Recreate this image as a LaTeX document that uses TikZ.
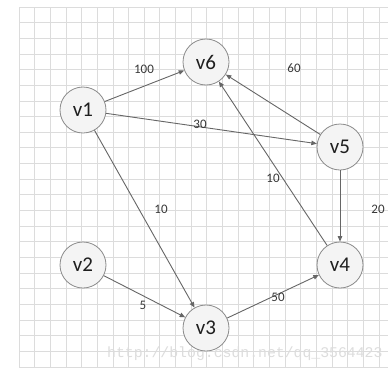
\documentclass[tikz,border=0pt]{standalone}
\usepackage{fontspec}
\setmainfont{Carlito}
\newfontfamily\wmfont{Liberation Mono}
\usetikzlibrary{arrows.meta}
\definecolor{gridc}{HTML}{DCDCDC}
\definecolor{edgec}{HTML}{666666}
\definecolor{nodeb}{HTML}{8C8C8C}
\definecolor{nodef}{HTML}{F4F4F4}
\definecolor{labc}{HTML}{383838}
\definecolor{wmc}{HTML}{DDDDDD}
\tikzset{
  vtx/.style={circle, draw=nodeb, fill=nodef, line width=0.8pt, minimum size=46pt, inner sep=0pt, font=\fontsize{21}{21}\selectfont, text=black!88},
  edg/.style={draw=edgec, line width=0.9pt, -{Triangle[length=5.5pt,width=4.5pt]}},
  wt/.style={font=\fontsize{13}{13}\selectfont, text=labc, inner sep=0pt},
}
\begin{document}
\begin{tikzpicture}[x=1pt,y=-1pt]
\useasboundingbox (0,0) rectangle (388,367);
\fill[white] (0,0) rectangle (388,367);
\begin{scope}
\clip (0,0) rectangle (388,367);
\foreach \k in {0,...,23} {
  \draw[gridc, line width=0.8pt] ({19+15.65*\k},7) -- ({19+15.65*\k},367);
}
\foreach \k in {0,...,23} {
  \draw[gridc, line width=0.8pt] (19,{7+15.65*\k}) -- (388,{7+15.65*\k});
}
\end{scope}
\node[anchor=west, inner sep=0pt, text=wmc, font=\wmfont\fontsize{14.8}{15}\selectfont] (wm) at (107,354) {http://blog.csdn.net/qq\_3564423};

\node[vtx] (v1) at (83,110) {v1};
\node[vtx] (v2) at (83,265) {v2};
\node[vtx] (v3) at (206,328) {v3};
\node[vtx] (v4) at (340,265) {v4};
\node[vtx] (v5) at (340,147) {v5};
\node[vtx] (v6) at (206,62) {v6};

\draw[edg] (v1) -- (v6);
\draw[edg] (v1) -- (v5);
\draw[edg] (v1) -- (v3);
\draw[edg] (v2) -- (v3);
\draw[edg] (v3) -- (v4);
\draw[edg] (v5) -- (v6);
\draw[edg] (v4) -- (v6);
\draw[edg] (v5) -- (v4);

\node[wt] (w16) at (144,69) {100};
\node[wt] (w15) at (200,124) {30};
\node[wt] (w13) at (161,209) {10};
\node[wt] (w23) at (143,305) {5};
\node[wt] (w34) at (278,297) {50};
\node[wt] (w56) at (294,68) {60};
\node[wt] (w46) at (273,178) {10};
\node[wt] (w54) at (378,209) {20};
\end{tikzpicture}
\end{document}
